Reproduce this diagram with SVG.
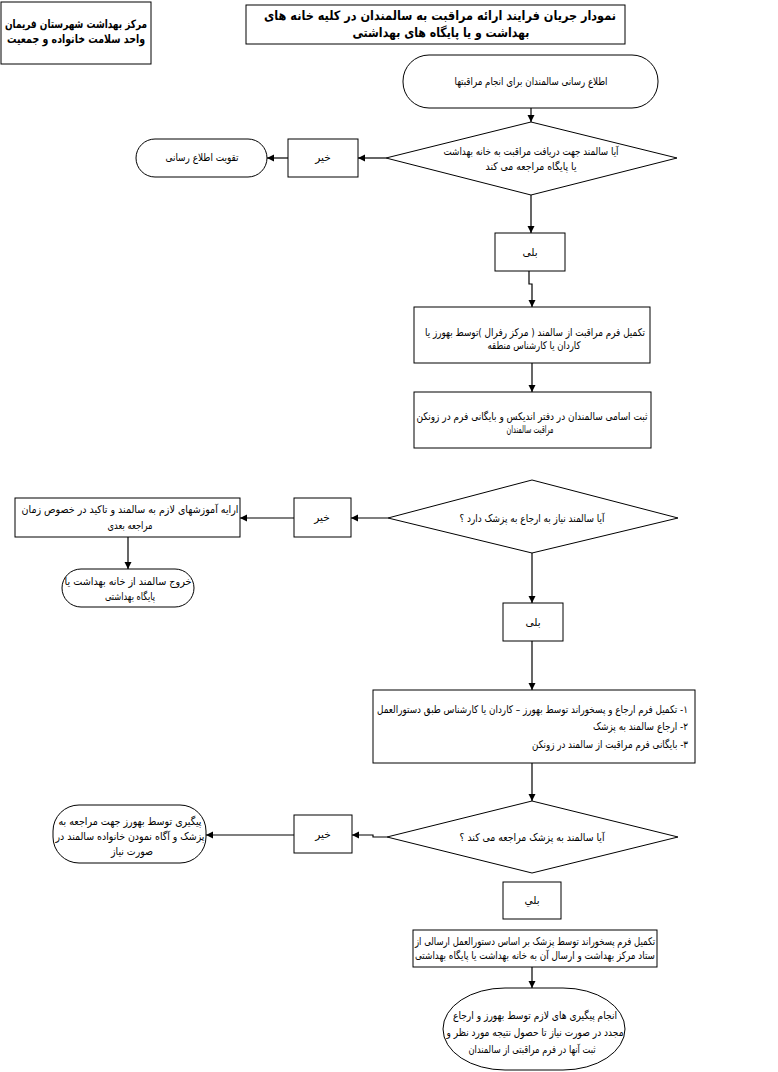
<svg xmlns="http://www.w3.org/2000/svg" width="778" height="1072" viewBox="0 0 778 1072">
<style>
.s{fill:#fff;stroke:#000;stroke-width:1}
.t{font-family:"DejaVu Sans",sans-serif;font-size:10.5px;fill:#000}
.b{font-family:"DejaVu Sans",sans-serif;font-weight:bold;fill:#000}
.c{fill:none;stroke:#000;stroke-width:1.2}
</style>
<defs>
<marker id="ar" markerWidth="8" markerHeight="8" refX="7" refY="4" orient="auto" markerUnits="userSpaceOnUse">
<path d="M0,0.5 L7,4 L0,7.5 Z" fill="#000"/>
</marker>
</defs>
<rect width="778" height="1072" fill="#fff"/>
<g id="org">
<rect class="s" x="1" y="2" width="150" height="62"/>
<text class="b" font-size="11.5" x="76" y="28" text-anchor="middle" direction="rtl" textLength="142" lengthAdjust="spacingAndGlyphs">مرکز بهداشت شهرستان فریمان</text>
<text class="b" font-size="11.5" x="76" y="43" text-anchor="middle" direction="rtl" textLength="138" lengthAdjust="spacingAndGlyphs">واحد سلامت خانواده و جمعیت</text>
</g>
<g id="title">
<rect class="s" x="246" y="5" width="379" height="39"/>
<text class="b" font-size="13" x="440" y="20" text-anchor="middle" direction="rtl" textLength="352" lengthAdjust="spacingAndGlyphs">نمودار جریان فرایند ارائه مراقبت به سالمندان در کلیه خانه های</text>
<text class="b" font-size="13" x="441" y="37" text-anchor="middle" direction="rtl" textLength="177" lengthAdjust="spacingAndGlyphs">بهداشت و یا پایگاه های بهداشتی</text>
</g>
<g id="start">
<rect class="s" x="403" y="55" width="255" height="53" rx="26" ry="26"/>
<text class="t" x="531" y="85" text-anchor="middle" direction="rtl" textLength="153" lengthAdjust="spacingAndGlyphs">اطلاع رسانی سالمندان برای انجام مراقبتها</text>
</g>
<g id="d1">
<polygon class="s" points="531,122 677,158 531,195 386,158"/>
<text class="t" x="531" y="155" text-anchor="middle" direction="rtl" textLength="175" lengthAdjust="spacingAndGlyphs">آیا سالمند جهت دریافت مراقبت به خانه بهداشت</text>
<text class="t" x="531" y="170" text-anchor="middle" direction="rtl" textLength="91" lengthAdjust="spacingAndGlyphs">یا پایگاه مراجعه می کند</text>
</g>
<g id="no1">
<rect class="s" x="288" y="139" width="70" height="38"/>
<text class="t" x="323" y="161" text-anchor="middle">خیر</text>
</g>
<g id="end1">
<rect class="s" x="136" y="139" width="131" height="38" rx="19" ry="19"/>
<text class="t" x="202" y="161" text-anchor="middle" direction="rtl" textLength="73" lengthAdjust="spacingAndGlyphs">تقویت اطلاع رسانی</text>
</g>
<g id="yes1">
<rect class="s" x="495" y="233" width="70" height="38"/>
<text class="t" x="530" y="256" text-anchor="middle">بلی</text>
</g>
<g id="p1">
<rect class="s" x="414" y="307" width="236" height="56"/>
<text class="t" x="535" y="336" text-anchor="middle" direction="rtl" textLength="220" lengthAdjust="spacingAndGlyphs">تکمیل فرم مراقبت از سالمند ( مرکز رفرال )توسط بهورز یا</text>
<text class="t" x="534" y="349" text-anchor="middle" direction="rtl" textLength="93" lengthAdjust="spacingAndGlyphs">کاردان یا کارشناس منطقه</text>
</g>
<g id="p2">
<rect class="s" x="414" y="392" width="237" height="56"/>
<text class="t" x="532" y="420" text-anchor="middle" direction="rtl" textLength="231" lengthAdjust="spacingAndGlyphs">ثبت اسامی سالمندان در دفتر اندیکس و بایگانی فرم در زونکن</text>
<text class="t" x="530" y="433" text-anchor="middle" direction="rtl" textLength="47" lengthAdjust="spacingAndGlyphs">مراقبت سالمندان</text>
</g>
<g id="d2">
<polygon class="s" points="532,480 678,518 532,553 388,518"/>
<text class="t" x="532" y="522" text-anchor="middle" direction="rtl" textLength="145" lengthAdjust="spacingAndGlyphs">آیا سالمند نیاز به ارجاع به پزشک دارد ؟</text>
</g>
<g id="no2">
<rect class="s" x="294" y="498" width="57" height="39"/>
<text class="t" x="322" y="521" text-anchor="middle">خیر</text>
</g>
<g id="edu">
<rect class="s" x="15" y="498" width="225" height="39"/>
<text class="t" x="130" y="513" text-anchor="middle" direction="rtl" textLength="217" lengthAdjust="spacingAndGlyphs">ارایه آموزشهای لازم به سالمند و تاکید در خصوص زمان</text>
<text class="t" x="130" y="529" text-anchor="middle" direction="rtl" textLength="45" lengthAdjust="spacingAndGlyphs">مراجعه بعدی</text>
</g>
<g id="end2">
<rect class="s" x="62" y="569" width="132" height="38" rx="19" ry="19"/>
<text class="t" x="128" y="585" text-anchor="middle" direction="rtl" textLength="127" lengthAdjust="spacingAndGlyphs">خروج سالمند از خانه بهداشت یا</text>
<text class="t" x="130" y="600" text-anchor="middle" direction="rtl" textLength="50" lengthAdjust="spacingAndGlyphs">پایگاه بهداشتی</text>
</g>
<g id="yes2">
<rect class="s" x="503" y="603" width="60" height="38"/>
<text class="t" x="533" y="626" text-anchor="middle">بلی</text>
</g>
<g id="p3">
<rect class="s" x="373" y="690" width="322" height="73"/>
<text class="t" x="688" y="713" text-anchor="start" direction="rtl" textLength="311" lengthAdjust="spacingAndGlyphs">۱- تکمیل فرم ارجاع و پسخوراند توسط بهورز – کاردان یا کارشناس طبق دستورالعمل</text>
<text class="t" x="688" y="730" text-anchor="start" direction="rtl" textLength="95" lengthAdjust="spacingAndGlyphs">۲- ارجاع سالمند به پزشک</text>
<text class="t" x="688" y="748" text-anchor="start" direction="rtl" textLength="156" lengthAdjust="spacingAndGlyphs">۳- بایگانی فرم مراقبت از سالمند در زونکن</text>
</g>
<g id="d3">
<polygon class="s" points="532,801 678,837 532,873 387,837"/>
<text class="t" x="532" y="841" text-anchor="middle" direction="rtl" textLength="145" lengthAdjust="spacingAndGlyphs">آیا سالمند  به پزشک مراجعه می کند ؟</text>
</g>
<g id="no3">
<rect class="s" x="294" y="815" width="58" height="38"/>
<text class="t" x="323" y="838" text-anchor="middle">خیر</text>
</g>
<g id="end3">
<rect class="s" x="53" y="805" width="153" height="58" rx="26" ry="26"/>
<text class="t" x="130" y="825" text-anchor="middle" direction="rtl" textLength="143" lengthAdjust="spacingAndGlyphs">پیگیری توسط بهورز جهت مراجعه به</text>
<text class="t" x="130" y="840" text-anchor="middle" direction="rtl" textLength="149" lengthAdjust="spacingAndGlyphs">پزشک و آگاه نمودن خانواده سالمند در</text>
<text class="t" x="132" y="855" text-anchor="middle" direction="rtl" textLength="42" lengthAdjust="spacingAndGlyphs">صورت نیاز</text>
</g>
<g id="yes3">
<rect class="s" x="503" y="882" width="58" height="37"/>
<text class="t" x="532" y="904" text-anchor="middle">بلي</text>
</g>
<g id="p4">
<rect class="s" x="413" y="930" width="244" height="37"/>
<text class="t" x="535" y="945" text-anchor="middle" direction="rtl" textLength="240" lengthAdjust="spacingAndGlyphs">تکمیل فرم پسخوراند توسط پزشک بر اساس دستورالعمل ارسالی از</text>
<text class="t" x="535" y="959" text-anchor="middle" direction="rtl" textLength="240" lengthAdjust="spacingAndGlyphs">ستاد مرکز بهداشت و ارسال آن به خانه بهداشت یا پایگاه بهداشتی</text>
</g>
<g id="end4">
<rect class="s" x="443" y="988" width="182" height="82" rx="62" ry="41"/>
<text class="t" x="535" y="1019" text-anchor="middle" direction="rtl" textLength="164" lengthAdjust="spacingAndGlyphs">انجام پیگیری های لازم توسط بهورز و ارجاع</text>
<text class="t" x="535" y="1036" text-anchor="middle" direction="rtl" textLength="177" lengthAdjust="spacingAndGlyphs">مجدد در صورت نیاز تا حصول نتیجه مورد نظر و</text>
<text class="t" x="532" y="1053" text-anchor="middle" direction="rtl" textLength="127" lengthAdjust="spacingAndGlyphs">ثبت آنها در فرم مراقبتی از سالمندان</text>
</g>
<g id="connectors">
<path class="c" d="M531,108 L531,122" marker-end="url(#ar)"/>
<path class="c" d="M386,158 L358,158" marker-end="url(#ar)"/>
<path class="c" d="M288,158 L267,158" marker-end="url(#ar)"/>
<path class="c" d="M531,195 L531,233" marker-end="url(#ar)"/>
<path class="c" d="M529,271 L529,284 L532,284 L532,307" marker-end="url(#ar)"/>
<path class="c" d="M532,363 L532,392" marker-end="url(#ar)"/>
<path class="c" d="M388,518 L351,518" marker-end="url(#ar)"/>
<path class="c" d="M294,518 L240,518" marker-end="url(#ar)"/>
<path class="c" d="M128,537 L128,569" marker-end="url(#ar)"/>
<path class="c" d="M532,553 L532,603" marker-end="url(#ar)"/>
<path class="c" d="M532,641 L532,690" marker-end="url(#ar)"/>
<path class="c" d="M532,763 L532,801" marker-end="url(#ar)"/>
<path class="c" d="M387,837 L373,837 L373,835 L352,835" marker-end="url(#ar)"/>
<path class="c" d="M294,835 L206,835" marker-end="url(#ar)"/>
<path class="c" d="M532,967 L532,988" marker-end="url(#ar)"/>
</g>
</svg>
